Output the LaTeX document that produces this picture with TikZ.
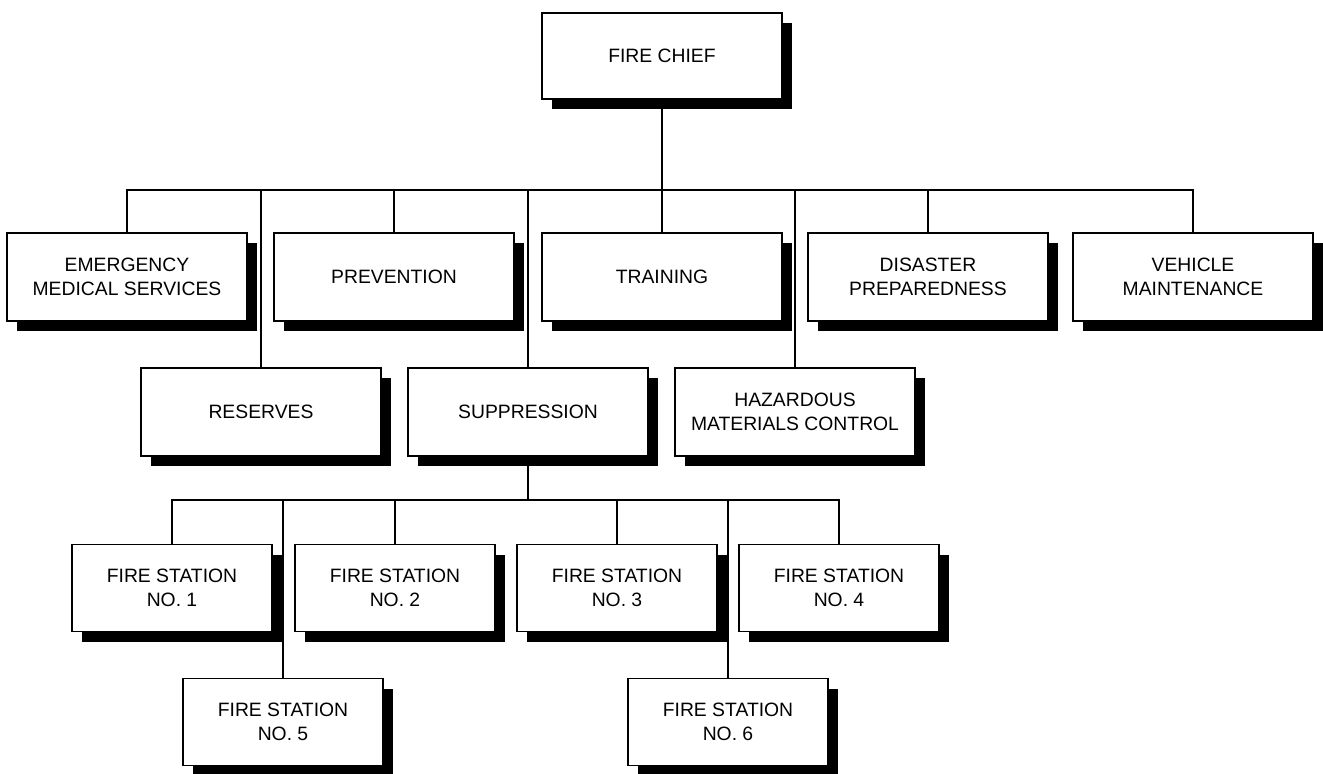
\documentclass[tikz,border=0pt]{standalone}
\usepackage{fontspec}
\setmainfont{Liberation Sans}
\usetikzlibrary{positioning,shadows}
\tikzset{
  org/box/.style={
    draw=black,
    line width=1.1pt,
    fill=white,
    align=center,
    text=black,
    minimum width=4.8cm,
    minimum height=1.76cm,
    inner sep=2pt,
    font=\fontsize{11}{13.5}\selectfont,
    drop shadow={shadow xshift=0.2cm, shadow yshift=-0.2cm, fill=black, opacity=1}
  },
  org/station/.style={org/box, minimum width=4cm, minimum height=1.74cm},
  org/line/.style={line width=1.1pt, draw=black}
}
\begin{document}
\begin{tikzpicture}[x=1cm,y=1cm]
  \useasboundingbox (0,0) rectangle (26.46,15.46);
  \node[org/box,minimum height=1.72cm] (chief) at (13.24,14.34) {FIRE CHIEF};
  % first row of divisions
  \foreach \n/\x/\t in {ems/2.54/{EMERGENCY\\MEDICAL SERVICES},prev/7.88/{PREVENTION},
      train/13.24/{TRAINING},dis/18.56/{DISASTER\\PREPAREDNESS},veh/23.86/{VEHICLE\\MAINTENANCE}}{
    \node[org/box] (\n) at (\x,9.92) {\t};
  }
  % second row
  \foreach \n/\x/\t in {res/5.22/{RESERVES},supp/10.56/{SUPPRESSION},haz/15.90/{HAZARDOUS\\MATERIALS CONTROL}}{
    \node[org/box] (\n) at (\x,7.22) {\t};
  }
  % fire stations
  \foreach \i/\x/\y in {1/3.44/3.70,2/7.90/3.70,3/12.34/3.70,4/16.78/3.70,5/5.66/1.02,6/14.56/1.02}{
    \node[org/station] (fs\i) at (\x,\y) {FIRE STATION\\NO. \i};
  }
  \coordinate (bus1) at (13.24,11.66);
  \coordinate (bus2) at (10.56,5.46);
  \draw[org/line] (chief) -- (train);
  \foreach \n in {ems,prev,dis,veh,res,supp,haz}{
    \draw[org/line] (\n.north) |- (bus1);
  }
  \draw[org/line] (supp) -- (bus2);
  \foreach \i in {1,...,6}{
    \draw[org/line] (fs\i.north) |- (bus2);
  }
\end{tikzpicture}
\end{document}
